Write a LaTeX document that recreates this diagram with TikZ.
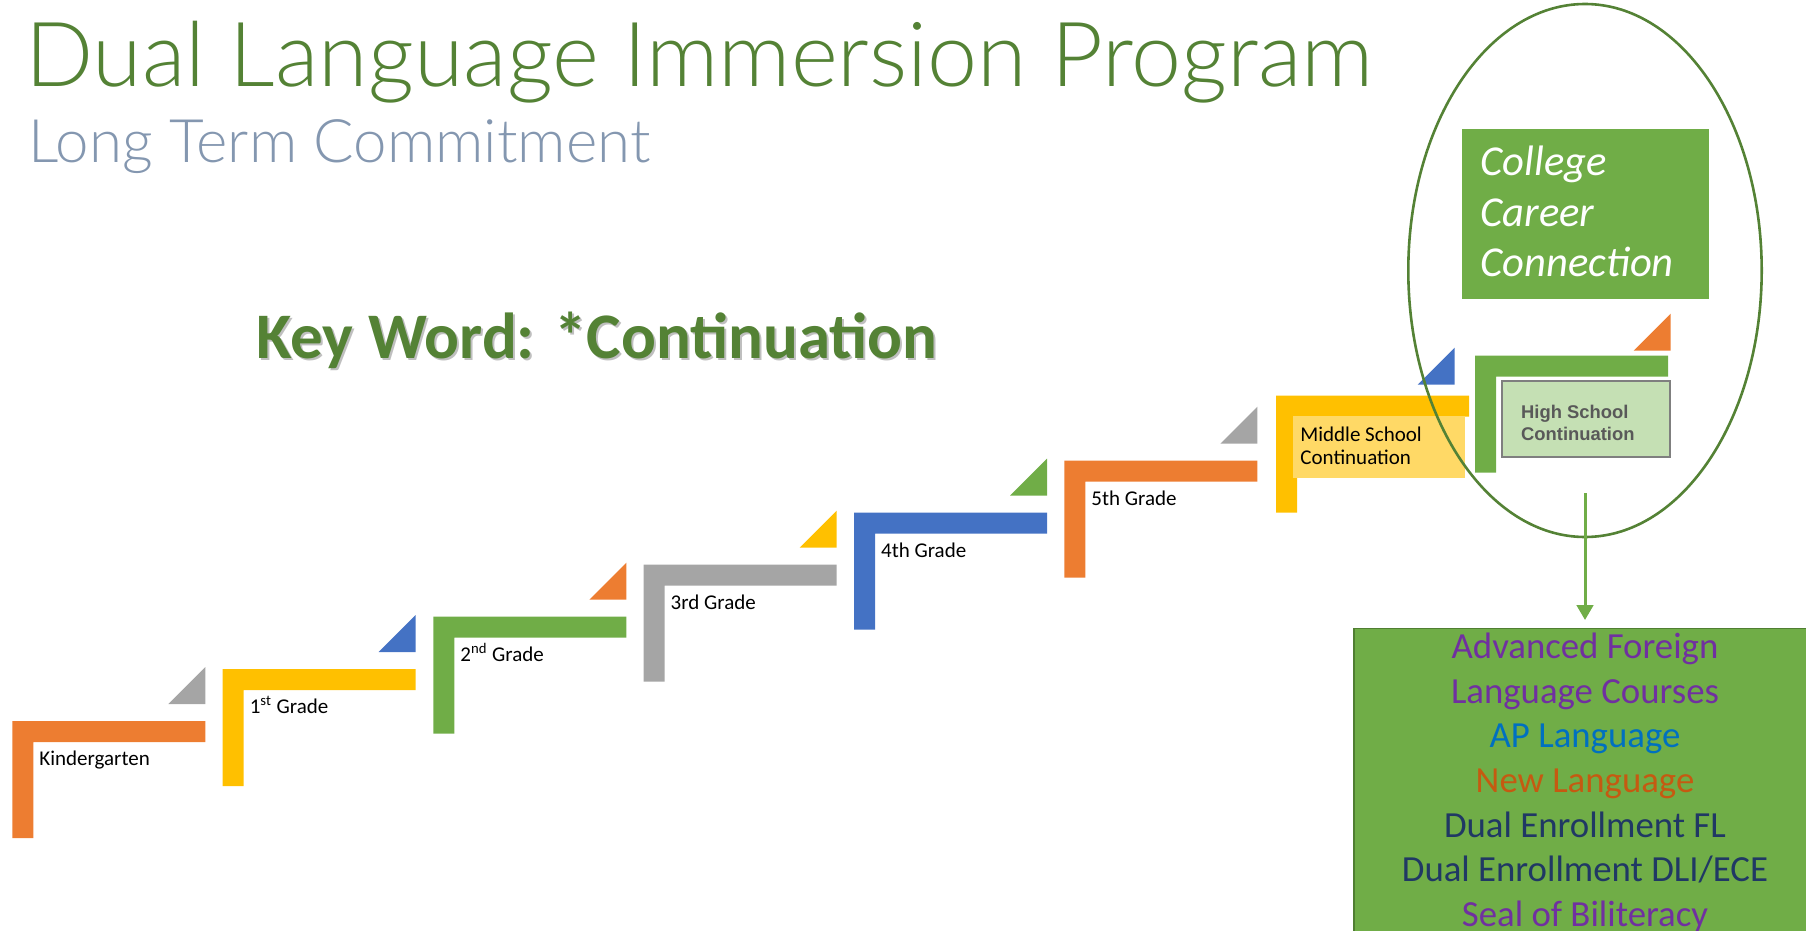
\documentclass[tikz,border=0pt]{standalone}
\usepackage{fontspec}
\setmainfont{Carlito}
\newfontfamily\hsfont{Liberation Sans}
\newfontfamily\lightfont{Lato}[UprightFont=* Light]
\usetikzlibrary{arrows.meta}
\definecolor{stOrange}{HTML}{ED7D31}
\definecolor{stYellow}{HTML}{FFC000}
\definecolor{stGreen}{HTML}{70AD47}
\definecolor{stGray}{HTML}{A5A5A5}
\definecolor{stBlue}{HTML}{4472C4}
\definecolor{titleGreen}{HTML}{548235}
\definecolor{subGray}{HTML}{8497B0}
\definecolor{msFill}{HTML}{FFD966}
\definecolor{hsFill}{HTML}{C5E0B4}
\definecolor{hsText}{HTML}{595959}
\definecolor{hsEdge}{HTML}{7F7F7F}
\definecolor{optEdge}{HTML}{507E32}
\definecolor{optPurple}{HTML}{7030A0}
\definecolor{optBlue}{HTML}{0070C0}
\definecolor{optOrange}{HTML}{C55A11}
\definecolor{optNavy}{HTML}{203864}
\newcommand{\drawStep}[3]{
    \fill[#3] (#1,#2) -- ++(193,0) -- ++(0,21) -- ++(-172,0) -- ++(0,96) -- ++(-21,0) -- cycle
}

\begin{document}
\begin{tikzpicture}[x=0.5pt,y=-0.5pt,
        steplabel/.style={anchor=base west,inner sep=0,font=\fontsize{10.5}{12}\selectfont},
        boxline/.style={anchor=base west,inner sep=0},
        optline/.style={anchor=base,inner sep=0,font=\fontsize{18.4}{22}\selectfont},
        flow/.style={draw=stGreen,line width=1.5pt,-{Triangle[length=7.5pt,width=8.3pt]},shorten >=3.85pt}]
            \newcommand{\flag}[3]{
                \fill[#3] (#1,#2) -- ++(-37,0) -- ++(37,-37) -- cycle
            }
            \useasboundingbox (0,0) rectangle (1806,931);

            \node[anchor=base west,inner sep=0,text=titleGreen] (title) at (25,87) {\resizebox{674pt}{!}{\lightfont\fontsize{40}{48}\selectfont Dual Language Immersion Program}};
            \node[anchor=base west,inner sep=0,text=subGray] (subtitle) at (28,163) {\resizebox{311pt}{!}{\lightfont\fontsize{28}{34}\selectfont Long Term Commitment}};
            \node[anchor=base west,inner sep=0,text=black!25,font=\bfseries\fontsize{32.5}{38}\selectfont] (kwshadow) at (258,360.5) {Key Word:\hspace{0.3em}*Continuation};
            \node[anchor=base west,inner sep=0,text=titleGreen,font=\bfseries\fontsize{32.5}{38}\selectfont] (keyword) at (256,358.3) {Key Word:\hspace{0.3em}*Continuation};

            \drawStep{12.3}{721}{stOrange};
            \drawStep{222.7}{669}{stYellow};
            \drawStep{433.3}{616.7}{stGreen};
            \drawStep{643.6}{564.7}{stGray};
            \drawStep{854}{512.7}{stBlue};
            \drawStep{1064.3}{460.7}{stOrange};
            \drawStep{1276}{395.7}{stYellow};
            \drawStep{1475}{355.7}{stGreen};

            \flag{205.3}{704}{stGray};
            \flag{415.7}{652}{stBlue};
            \flag{626.3}{599.7}{stOrange};
            \flag{836.6}{547.7}{stYellow};
            \flag{1047}{495.7}{stGreen};
            \flag{1257.3}{443.7}{stGray};
            \flag{1454.7}{384.7}{stBlue};
            \flag{1670.7}{350.7}{stOrange};

            \node[steplabel] (kg) at (39,765.3) {Kindergarten};
            \node[steplabel] (g1) at (249.4,713.3) {1\textsuperscript{st} Grade};
            \node[steplabel] (g2) at (460,661) {2\textsuperscript{nd} Grade};
            \node[steplabel] (g3) at (670.3,609) {3rd Grade};
            \node[steplabel] (g4) at (880.7,557) {4th Grade};
            \node[steplabel] (g5) at (1091,505) {5th Grade};

            \node[anchor=north west,inner sep=0,fill=msFill,minimum width=86.15pt,minimum height=30.85pt] (ms) at (1292.7,416) {};
            \node[steplabel] (ms1) at (1300,441.7) {Middle School};
            \node[steplabel] (ms2) at (1300,464) {Continuation};

            \node[anchor=north west,inner sep=0,fill=hsFill,draw=hsEdge,line width=1pt,minimum width=84.3pt,minimum height=37.7pt] (hs) at (1500.7,380.3) {};
            \node[boxline,text=hsText,font=\hsfont\bfseries\fontsize{9.2}{11}\selectfont] (hs1) at (1520.7,418.3) {High School};
            \node[boxline,text=hsText,font=\hsfont\bfseries\fontsize{9.2}{11}\selectfont] (hs2) at (1520.7,440.7) {Continuation};

            \node[anchor=north west,inner sep=0,fill=stGreen,minimum width=123.3pt,minimum height=85pt] (cc) at (1461.7,128.3) {};
            \node[boxline,text=white,font=\itshape\fontsize{21.3}{25}\selectfont] (cc1) at (1480,176) {College};
            \node[boxline,text=white,font=\itshape\fontsize{21.3}{25}\selectfont] (cc2) at (1480,226.5) {Career};
            \node[boxline,text=white,font=\itshape\fontsize{21.3}{25}\selectfont] (cc3) at (1480,276) {Connection};

            \node[anchor=north west,inner sep=0,fill=stGreen,draw=optEdge,line width=0.8pt,minimum width=250pt,minimum height=160pt] (opt) at (1353.3,627.7) {};
            \node[optline,text=optPurple] (opt1) at (1585,658.3) {Advanced Foreign};
            \node[optline,text=optPurple] (opt2) at (1585,703) {Language Courses};
            \node[optline,text=optBlue] (opt3) at (1585,747.7) {AP Language};
            \node[optline,text=optOrange] (opt4) at (1585,792.4) {New Language};
            \node[optline,text=optNavy] (opt5) at (1585,837) {Dual Enrollment FL};
            \node[optline,text=optNavy] (opt6) at (1585,881.7) {Dual Enrollment DLI/ECE};
            \node[optline,text=optPurple] (opt7) at (1585,926.5) {Seal of Biliteracy};

            \draw[titleGreen,line width=1.3pt] (1585,270.5) ellipse [x radius=88.35pt, y radius=133.25pt];

            \coordinate (drop) at (1585,493.3);
            \draw[flow] (drop) -- (drop |- opt.north);
\end{tikzpicture}
\end{document}
